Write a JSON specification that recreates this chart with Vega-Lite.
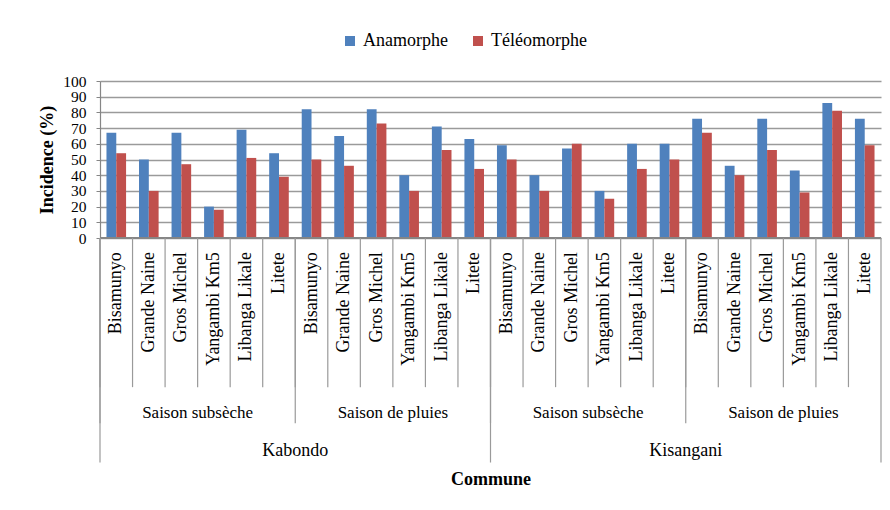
{
  "$schema": "https://vega.github.io/schema/vega-lite/v6.json",
  "width": 781,
  "height": 157,
  "autosize": "none",
  "padding": {"left": 100, "top": 81, "right": 9, "bottom": 272},
  "background": "white",
  "config": {
    "view": {"stroke": null},
    "font": "Liberation Serif",
    "axisX": {"labels": false, "ticks": false, "domain": false, "grid": false,
              "titleFont": "Liberation Serif", "titleFontSize": 18, "titleFontWeight": "bold", "titleColor": "black", "titlePadding": 232},
    "axisY": {"labelFont": "Liberation Serif", "labelFontSize": 15.5, "labelColor": "black", "labelOverlap": false, "labelBound": false, "labelFlush": false,
              "labelPadding": 10, "tickSize": 4, "tickColor": "#868686", "domainColor": "#868686", "domainWidth": 1.2,
              "grid": true, "gridColor": "#9a9a9a", "gridWidth": 1.3,
              "titleFont": "Liberation Serif", "titleFontSize": 18, "titleFontWeight": "bold", "titleColor": "black", "titlePadding": 6}
  },
  "data": {"values": [
    {"commune": "Kabondo", "saison": "Saison subsèche", "site": "Bisamunyo", "cat": "Kabondo - Saison subsèche - Bisamunyo", "serie": "Anamorphe", "value": 67},
    {"commune": "Kabondo", "saison": "Saison subsèche", "site": "Bisamunyo", "cat": "Kabondo - Saison subsèche - Bisamunyo", "serie": "Téléomorphe", "value": 54},
    {"commune": "Kabondo", "saison": "Saison subsèche", "site": "Grande Naine", "cat": "Kabondo - Saison subsèche - Grande Naine", "serie": "Anamorphe", "value": 50},
    {"commune": "Kabondo", "saison": "Saison subsèche", "site": "Grande Naine", "cat": "Kabondo - Saison subsèche - Grande Naine", "serie": "Téléomorphe", "value": 30},
    {"commune": "Kabondo", "saison": "Saison subsèche", "site": "Gros Michel", "cat": "Kabondo - Saison subsèche - Gros Michel", "serie": "Anamorphe", "value": 67},
    {"commune": "Kabondo", "saison": "Saison subsèche", "site": "Gros Michel", "cat": "Kabondo - Saison subsèche - Gros Michel", "serie": "Téléomorphe", "value": 47},
    {"commune": "Kabondo", "saison": "Saison subsèche", "site": "Yangambi Km5", "cat": "Kabondo - Saison subsèche - Yangambi Km5", "serie": "Anamorphe", "value": 20},
    {"commune": "Kabondo", "saison": "Saison subsèche", "site": "Yangambi Km5", "cat": "Kabondo - Saison subsèche - Yangambi Km5", "serie": "Téléomorphe", "value": 18},
    {"commune": "Kabondo", "saison": "Saison subsèche", "site": "Libanga Likale", "cat": "Kabondo - Saison subsèche - Libanga Likale", "serie": "Anamorphe", "value": 69},
    {"commune": "Kabondo", "saison": "Saison subsèche", "site": "Libanga Likale", "cat": "Kabondo - Saison subsèche - Libanga Likale", "serie": "Téléomorphe", "value": 51},
    {"commune": "Kabondo", "saison": "Saison subsèche", "site": "Litete", "cat": "Kabondo - Saison subsèche - Litete", "serie": "Anamorphe", "value": 54},
    {"commune": "Kabondo", "saison": "Saison subsèche", "site": "Litete", "cat": "Kabondo - Saison subsèche - Litete", "serie": "Téléomorphe", "value": 39},
    {"commune": "Kabondo", "saison": "Saison de pluies", "site": "Bisamunyo", "cat": "Kabondo - Saison de pluies - Bisamunyo", "serie": "Anamorphe", "value": 82},
    {"commune": "Kabondo", "saison": "Saison de pluies", "site": "Bisamunyo", "cat": "Kabondo - Saison de pluies - Bisamunyo", "serie": "Téléomorphe", "value": 50},
    {"commune": "Kabondo", "saison": "Saison de pluies", "site": "Grande Naine", "cat": "Kabondo - Saison de pluies - Grande Naine", "serie": "Anamorphe", "value": 65},
    {"commune": "Kabondo", "saison": "Saison de pluies", "site": "Grande Naine", "cat": "Kabondo - Saison de pluies - Grande Naine", "serie": "Téléomorphe", "value": 46},
    {"commune": "Kabondo", "saison": "Saison de pluies", "site": "Gros Michel", "cat": "Kabondo - Saison de pluies - Gros Michel", "serie": "Anamorphe", "value": 82},
    {"commune": "Kabondo", "saison": "Saison de pluies", "site": "Gros Michel", "cat": "Kabondo - Saison de pluies - Gros Michel", "serie": "Téléomorphe", "value": 73},
    {"commune": "Kabondo", "saison": "Saison de pluies", "site": "Yangambi Km5", "cat": "Kabondo - Saison de pluies - Yangambi Km5", "serie": "Anamorphe", "value": 40},
    {"commune": "Kabondo", "saison": "Saison de pluies", "site": "Yangambi Km5", "cat": "Kabondo - Saison de pluies - Yangambi Km5", "serie": "Téléomorphe", "value": 30},
    {"commune": "Kabondo", "saison": "Saison de pluies", "site": "Libanga Likale", "cat": "Kabondo - Saison de pluies - Libanga Likale", "serie": "Anamorphe", "value": 71},
    {"commune": "Kabondo", "saison": "Saison de pluies", "site": "Libanga Likale", "cat": "Kabondo - Saison de pluies - Libanga Likale", "serie": "Téléomorphe", "value": 56},
    {"commune": "Kabondo", "saison": "Saison de pluies", "site": "Litete", "cat": "Kabondo - Saison de pluies - Litete", "serie": "Anamorphe", "value": 63},
    {"commune": "Kabondo", "saison": "Saison de pluies", "site": "Litete", "cat": "Kabondo - Saison de pluies - Litete", "serie": "Téléomorphe", "value": 44},
    {"commune": "Kisangani", "saison": "Saison subsèche", "site": "Bisamunyo", "cat": "Kisangani - Saison subsèche - Bisamunyo", "serie": "Anamorphe", "value": 59},
    {"commune": "Kisangani", "saison": "Saison subsèche", "site": "Bisamunyo", "cat": "Kisangani - Saison subsèche - Bisamunyo", "serie": "Téléomorphe", "value": 50},
    {"commune": "Kisangani", "saison": "Saison subsèche", "site": "Grande Naine", "cat": "Kisangani - Saison subsèche - Grande Naine", "serie": "Anamorphe", "value": 40},
    {"commune": "Kisangani", "saison": "Saison subsèche", "site": "Grande Naine", "cat": "Kisangani - Saison subsèche - Grande Naine", "serie": "Téléomorphe", "value": 30},
    {"commune": "Kisangani", "saison": "Saison subsèche", "site": "Gros Michel", "cat": "Kisangani - Saison subsèche - Gros Michel", "serie": "Anamorphe", "value": 57},
    {"commune": "Kisangani", "saison": "Saison subsèche", "site": "Gros Michel", "cat": "Kisangani - Saison subsèche - Gros Michel", "serie": "Téléomorphe", "value": 60},
    {"commune": "Kisangani", "saison": "Saison subsèche", "site": "Yangambi Km5", "cat": "Kisangani - Saison subsèche - Yangambi Km5", "serie": "Anamorphe", "value": 30},
    {"commune": "Kisangani", "saison": "Saison subsèche", "site": "Yangambi Km5", "cat": "Kisangani - Saison subsèche - Yangambi Km5", "serie": "Téléomorphe", "value": 25},
    {"commune": "Kisangani", "saison": "Saison subsèche", "site": "Libanga Likale", "cat": "Kisangani - Saison subsèche - Libanga Likale", "serie": "Anamorphe", "value": 60},
    {"commune": "Kisangani", "saison": "Saison subsèche", "site": "Libanga Likale", "cat": "Kisangani - Saison subsèche - Libanga Likale", "serie": "Téléomorphe", "value": 44},
    {"commune": "Kisangani", "saison": "Saison subsèche", "site": "Litete", "cat": "Kisangani - Saison subsèche - Litete", "serie": "Anamorphe", "value": 60},
    {"commune": "Kisangani", "saison": "Saison subsèche", "site": "Litete", "cat": "Kisangani - Saison subsèche - Litete", "serie": "Téléomorphe", "value": 50},
    {"commune": "Kisangani", "saison": "Saison de pluies", "site": "Bisamunyo", "cat": "Kisangani - Saison de pluies - Bisamunyo", "serie": "Anamorphe", "value": 76},
    {"commune": "Kisangani", "saison": "Saison de pluies", "site": "Bisamunyo", "cat": "Kisangani - Saison de pluies - Bisamunyo", "serie": "Téléomorphe", "value": 67},
    {"commune": "Kisangani", "saison": "Saison de pluies", "site": "Grande Naine", "cat": "Kisangani - Saison de pluies - Grande Naine", "serie": "Anamorphe", "value": 46},
    {"commune": "Kisangani", "saison": "Saison de pluies", "site": "Grande Naine", "cat": "Kisangani - Saison de pluies - Grande Naine", "serie": "Téléomorphe", "value": 40},
    {"commune": "Kisangani", "saison": "Saison de pluies", "site": "Gros Michel", "cat": "Kisangani - Saison de pluies - Gros Michel", "serie": "Anamorphe", "value": 76},
    {"commune": "Kisangani", "saison": "Saison de pluies", "site": "Gros Michel", "cat": "Kisangani - Saison de pluies - Gros Michel", "serie": "Téléomorphe", "value": 56},
    {"commune": "Kisangani", "saison": "Saison de pluies", "site": "Yangambi Km5", "cat": "Kisangani - Saison de pluies - Yangambi Km5", "serie": "Anamorphe", "value": 43},
    {"commune": "Kisangani", "saison": "Saison de pluies", "site": "Yangambi Km5", "cat": "Kisangani - Saison de pluies - Yangambi Km5", "serie": "Téléomorphe", "value": 29},
    {"commune": "Kisangani", "saison": "Saison de pluies", "site": "Libanga Likale", "cat": "Kisangani - Saison de pluies - Libanga Likale", "serie": "Anamorphe", "value": 86},
    {"commune": "Kisangani", "saison": "Saison de pluies", "site": "Libanga Likale", "cat": "Kisangani - Saison de pluies - Libanga Likale", "serie": "Téléomorphe", "value": 81},
    {"commune": "Kisangani", "saison": "Saison de pluies", "site": "Litete", "cat": "Kisangani - Saison de pluies - Litete", "serie": "Anamorphe", "value": 76},
    {"commune": "Kisangani", "saison": "Saison de pluies", "site": "Litete", "cat": "Kisangani - Saison de pluies - Litete", "serie": "Téléomorphe", "value": 59}
  ]},
  "layer": [
    {
      "mark": {"type": "bar"},
      "encoding": {
        "x": {
          "field": "cat", "type": "nominal", "sort": null, "title": "Commune",
          "scale": {"domain": [
            "Kabondo - Saison subsèche - Bisamunyo", "Kabondo - Saison subsèche - Grande Naine", "Kabondo - Saison subsèche - Gros Michel", "Kabondo - Saison subsèche - Yangambi Km5", "Kabondo - Saison subsèche - Libanga Likale", "Kabondo - Saison subsèche - Litete",
            "Kabondo - Saison de pluies - Bisamunyo", "Kabondo - Saison de pluies - Grande Naine", "Kabondo - Saison de pluies - Gros Michel", "Kabondo - Saison de pluies - Yangambi Km5", "Kabondo - Saison de pluies - Libanga Likale", "Kabondo - Saison de pluies - Litete",
            "Kisangani - Saison subsèche - Bisamunyo", "Kisangani - Saison subsèche - Grande Naine", "Kisangani - Saison subsèche - Gros Michel", "Kisangani - Saison subsèche - Yangambi Km5", "Kisangani - Saison subsèche - Libanga Likale", "Kisangani - Saison subsèche - Litete",
            "Kisangani - Saison de pluies - Bisamunyo", "Kisangani - Saison de pluies - Grande Naine", "Kisangani - Saison de pluies - Gros Michel", "Kisangani - Saison de pluies - Yangambi Km5", "Kisangani - Saison de pluies - Libanga Likale", "Kisangani - Saison de pluies - Litete"
          ], "paddingInner": 0, "paddingOuter": 0}
        },
        "xOffset": {"field": "serie", "type": "nominal", "sort": ["Anamorphe", "Téléomorphe"], "scale": {"paddingInner": 0, "paddingOuter": 0.66}},
        "y": {
          "field": "value", "type": "quantitative", "title": "Incidence (%)",
          "scale": {"domain": [0, 100], "nice": false},
          "axis": {"values": [0, 10, 20, 30, 40, 50, 60, 70, 80, 90, 100], "labelOverlap": false}
        },
        "color": {
          "field": "serie", "type": "nominal",
          "scale": {"domain": ["Anamorphe", "Téléomorphe"], "range": ["#4F81BD", "#C0504D"]},
          "legend": {"orient": "none", "legendX": 241, "legendY": -49, "direction": "horizontal", "title": null,
                     "symbolType": "square", "symbolSize": 100, "symbolStrokeWidth": 0, "labelFont": "Liberation Serif", "labelFontSize": 18, "labelColor": "black",
                     "labelOffset": 4, "columnPadding": 21, "padding": 0}
        }
      }
    },
    {
      "mark": {"type": "rule", "color": "#868686", "strokeWidth": 1.3},
      "encoding": {"y": {"datum": 0, "title": "Incidence (%)", "axis": {"values": [0, 10, 20, 30, 40, 50, 60, 70, 80, 90, 100], "labelOverlap": false}}}
    },
    {
      "transform": [{"filter": "datum.serie === 'Anamorphe'"}],
      "mark": {"type": "rule", "color": "#9a9a9a", "strokeWidth": 1.2},
      "encoding": {
        "x": {"field": "cat", "type": "nominal", "bandPosition": 0, "title": "Commune"},
        "y": {"datum": 0, "title": "Incidence (%)", "axis": {"values": [0, 10, 20, 30, 40, 50, 60, 70, 80, 90, 100], "labelOverlap": false}},
        "y2": {"datum": -95}
      }
    },
    {
      "transform": [{"filter": "datum.serie === 'Anamorphe' && datum.site === 'Bisamunyo'"}],
      "mark": {"type": "rule", "color": "#9a9a9a", "strokeWidth": 1.2},
      "encoding": {
        "x": {"field": "cat", "type": "nominal", "bandPosition": 0, "title": "Commune"},
        "y": {"datum": 0, "title": "Incidence (%)", "axis": {"values": [0, 10, 20, 30, 40, 50, 60, 70, 80, 90, 100], "labelOverlap": false}},
        "y2": {"datum": -118}
      }
    },
    {
      "transform": [{"filter": "datum.serie === 'Anamorphe' && datum.site === 'Bisamunyo' && datum.saison === 'Saison subsèche'"}],
      "mark": {"type": "rule", "color": "#9a9a9a", "strokeWidth": 1.2},
      "encoding": {
        "x": {"field": "cat", "type": "nominal", "bandPosition": 0, "title": "Commune"},
        "y": {"datum": 0, "title": "Incidence (%)", "axis": {"values": [0, 10, 20, 30, 40, 50, 60, 70, 80, 90, 100], "labelOverlap": false}},
        "y2": {"datum": -143}
      }
    },
    {
      "transform": [{"filter": "datum.serie === 'Anamorphe' && datum.site === 'Litete' && datum.saison === 'Saison de pluies' && datum.commune === 'Kisangani'"}],
      "mark": {"type": "rule", "color": "#9a9a9a", "strokeWidth": 1.2},
      "encoding": {
        "x": {"field": "cat", "type": "nominal", "bandPosition": 1, "title": "Commune"},
        "y": {"datum": 0, "title": "Incidence (%)", "axis": {"values": [0, 10, 20, 30, 40, 50, 60, 70, 80, 90, 100], "labelOverlap": false}},
        "y2": {"datum": -143}
      }
    },
    {
      "transform": [{"filter": "datum.serie === 'Anamorphe'"}],
      "mark": {"type": "text", "angle": 270, "align": "right", "baseline": "middle", "font": "Liberation Serif", "fontSize": 18, "color": "black"},
      "encoding": {
        "x": {"field": "cat", "type": "nominal", "title": "Commune"},
        "y": {"datum": -9, "title": "Incidence (%)", "axis": {"values": [0, 10, 20, 30, 40, 50, 60, 70, 80, 90, 100], "labelOverlap": false}},
        "text": {"field": "site"}
      }
    },
    {
      "transform": [{"filter": "datum.serie === 'Anamorphe' && datum.site === 'Gros Michel'"}],
      "mark": {"type": "text", "align": "center", "baseline": "middle", "font": "Liberation Serif", "fontSize": 17, "color": "black"},
      "encoding": {
        "x": {"field": "cat", "type": "nominal", "bandPosition": 1, "title": "Commune"},
        "y": {"datum": -111.5, "title": "Incidence (%)", "axis": {"values": [0, 10, 20, 30, 40, 50, 60, 70, 80, 90, 100], "labelOverlap": false}},
        "text": {"field": "saison"}
      }
    },
    {
      "transform": [{"filter": "datum.serie === 'Anamorphe' && datum.site === 'Litete' && datum.saison === 'Saison subsèche'"}],
      "mark": {"type": "text", "align": "center", "baseline": "middle", "font": "Liberation Serif", "fontSize": 18, "color": "black"},
      "encoding": {
        "x": {"field": "cat", "type": "nominal", "bandPosition": 1, "title": "Commune"},
        "y": {"datum": -135.5, "title": "Incidence (%)", "axis": {"values": [0, 10, 20, 30, 40, 50, 60, 70, 80, 90, 100], "labelOverlap": false}},
        "text": {"field": "commune"}
      }
    }
  ]
}
